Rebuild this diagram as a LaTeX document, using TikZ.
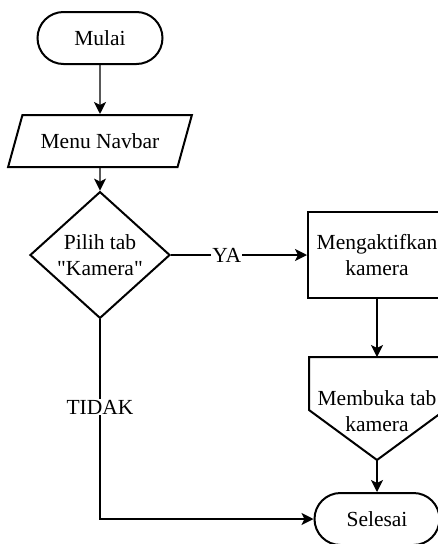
\documentclass[tikz,border=0pt]{standalone}
\usepackage{fontspec}
\setmainfont{Liberation Serif}
\usetikzlibrary{arrows.meta,positioning,shapes.geometric,shapes.misc}
\tikzset{
  ar/.style={-{Stealth[length=12pt,width=12pt,inset=3pt]},line width=1.4pt},
  txt/.style={align=center,font=\fontsize{21.5}{26}\selectfont},
  base/.style={txt,draw,line width=2pt,inner sep=0pt},
  term/.style={base,rounded rectangle,minimum width=125pt,minimum height=52pt},
  io/.style={base,trapezium,trapezium left angle=54,trapezium right angle=126,trapezium stretches=true,minimum width=184pt,minimum height=52pt},
  dec/.style={base,diamond,minimum width=140pt,minimum height=104pt},
  proc/.style={base,rectangle,minimum width=138pt,minimum height=86pt},
  lbl/.style={txt,fill=white,inner sep=1pt}
}
\begin{document}
\begin{tikzpicture}[x=1pt,y=-1pt]
\useasboundingbox (0,0) rectangle (438,544);
\node[term] (mulai) at (100,38) {Mulai};
\node[io] (menu) at (100,141) {Menu Navbar};
\node[dec] (pilih) at (100,255) {Pilih tab\\\textquotedbl Kamera\textquotedbl};
\node[proc] (aktif) at (377,255) {Mengaktifkan\\kamera};
% off-page connector
\coordinate (bukatop) at (377,357);
\coordinate (bukabot) at (377,460);
\draw[line width=2pt] (309,357) -- (445,357) -- (445,410) -- (bukabot) -- (309,410) -- cycle;
\node[txt] (buka) at (377,411) {Membuka tab\\kamera};
\node[term] (selesai) at (377,519) {Selesai};
\coordinate (belok) at (100,519);

\draw[ar] (mulai) -- (menu);
\draw[ar] (menu) -- (pilih);
\draw[ar] (pilih) -- node[lbl,pos=0.41]{YA} (aktif);
\draw[ar] (aktif) -- (bukatop);
\draw[ar] (bukabot) -- (selesai);
\draw[ar] (pilih) -- node[lbl,pos=0.44]{TIDAK} (belok) -- (selesai);
\end{tikzpicture}
\end{document}
